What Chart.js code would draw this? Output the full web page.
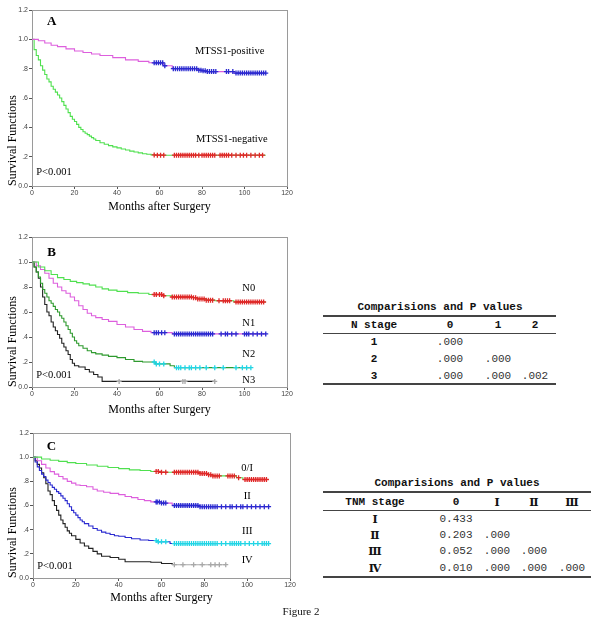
<!DOCTYPE html>
<html>
<head>
<meta charset="utf-8">
<script src="https://cdn.jsdelivr.net/npm/chart.js@4.4.0/dist/chart.umd.min.js"></script>
<style>
  body { margin:0; background:#fff; width:600px; height:622px; position:relative; overflow:hidden; }
  canvas { position:absolute; left:0; }
  .t { position:absolute; white-space:nowrap; transform:translate(-50%,-50%); color:#111; }
  .hd { font-family:"Liberation Mono", monospace; font-weight:bold; font-size:11px; }
  .num { font-family:"Liberation Mono", monospace; font-size:11px; color:#333; }
  .rom { font-family:"DejaVu Serif", "Noto Sans CJK SC", serif; font-weight:bold; font-size:11px; }
  .ln { position:absolute; background:#444; }
</style>
</head>
<body>
<canvas id="kmA" width="300" height="215" style="top:0px"></canvas>
<canvas id="kmB" width="300" height="205" style="top:215px"></canvas>
<canvas id="kmC" width="300" height="202" style="top:420px"></canvas>
<div id="tables"></div>
<div class="t" style="left:301px; top:611px; font-family:'Liberation Serif', serif; font-size:11px;">Figure 2</div>
<script>
window.onload = function () {

// ---- panel A : MTSS1 ----
const aPosTime = [0,3,6,9,12,16,20,24,28,32,38,44,50,55,62,66,78,80,82,95,110];
const aPosSurv = [1,0.99,0.975,0.96,0.95,0.935,0.92,0.91,0.9,0.89,0.875,0.86,0.85,0.84,0.82,0.80,0.79,0.785,0.78,0.77,0.77];
const aPosCens = [57.5,58.5,59.5,60.5,61.5,62.5,66.5,67.5,68.5,69.5,70.5,71.5,72.5,73.5,74.5,75.5,76.5,77.5,78.5,79.5,80.5,81.5,82.5,83.5,84.5,85.5,86.5,91.5,92.5,94.5,96,97,98,99,100,101,102,103,104,105,106,107,108,109,110];
const aNegTime = [0,1,2,3,4,5,6,7,8,9,10,11,12,13,14,15,16,17,18,19,20,21,22,23,24,25,26,27,28,29,30,32,34,36,38,40,42,44,46,48,50,52,54,56,58,110];
const aNegSurv = [1,0.93,0.89,0.86,0.82,0.79,0.76,0.73,0.71,0.68,0.66,0.64,0.62,0.6,0.575,0.55,0.525,0.5,0.475,0.455,0.44,0.42,0.4,0.385,0.37,0.36,0.35,0.34,0.33,0.32,0.31,0.295,0.285,0.275,0.267,0.26,0.252,0.245,0.238,0.232,0.226,0.22,0.216,0.212,0.21,0.21];
const aNegCens = [57.5,59,60.5,62,67,68,69,70,71,72,73,74,75,76,77,78.5,80,81,82,83,84,85,86,88.5,89.5,90.5,91.5,92.5,94,96,98,99.5,101,103,105,107,108.5];

// ---- panel B : N stage ----
const n0Time = [0,3,6,9,12,15,18,21,24,27,30,33,36,40,45,50,55,62,66,76,78,82,86,95,110];
const n0Surv = [1,0.96,0.93,0.9,0.875,0.86,0.845,0.835,0.825,0.815,0.8,0.785,0.775,0.765,0.755,0.75,0.74,0.73,0.72,0.715,0.705,0.695,0.69,0.68,0.68];
const n0Cens = [57.5,58.5,60,61,62,66,67,68,69,70,71,72,73,74,75,76,77,78,79,80,81,82,83,84,85,88,90,91,92,93,96,97,98,99,100,101,102,103,104,105,106,107,108,109];
const n1Time = [0,2,4,6,8,10,12,14,16,18,20,22,24,26,28,30,33,36,40,44,48,52,56,66,110];
const n1Surv = [1,0.97,0.94,0.91,0.87,0.83,0.8,0.77,0.75,0.72,0.69,0.65,0.62,0.59,0.57,0.555,0.54,0.525,0.5,0.48,0.46,0.445,0.435,0.425,0.425];
const n1Cens = [57.5,58.5,59.5,61,62.5,67,68,69,70,71,72,73,74,75,76,77,78,79,80,81,82,83,84,85,89,91,92,94,96,100,101,102,104,106,108,110];
const n2Time = [0,1,2,3,4,5,6,7,8,9,10,11,12,13,14,15,16,17,18,19,20,21,22,24,26,28,30,33,36,40,44,48,52,58,65,67,103];
const n2Surv = [1,0.96,0.92,0.88,0.83,0.78,0.75,0.72,0.69,0.67,0.645,0.62,0.6,0.57,0.55,0.52,0.49,0.46,0.43,0.4,0.37,0.35,0.33,0.31,0.29,0.275,0.265,0.255,0.245,0.235,0.22,0.205,0.2,0.185,0.17,0.155,0.155];
const n2Cens = [57.5,58.5,60,62,68,69,70,72,74,75,77,79,82,86,90,96,99,101,103];
const n3Time = [0,1,2,3,4,5,6,7,8,9,10,11,12,13,14,15,16,17,18,19,20,22,25,27,29,31,33,86];
const n3Surv = [1,0.96,0.92,0.87,0.8,0.72,0.66,0.6,0.57,0.52,0.48,0.45,0.42,0.39,0.35,0.32,0.29,0.26,0.22,0.19,0.17,0.16,0.14,0.12,0.1,0.08,0.045,0.045];
const n3Cens = [41,71,72,86];

// ---- panel C : TNM stage ----
const s1Time = [0,4,8,12,16,20,25,30,35,40,45,50,55,60,78,82,84,95,98,110];
const s1Surv = [1,0.985,0.975,0.965,0.955,0.948,0.935,0.925,0.915,0.905,0.895,0.89,0.882,0.875,0.865,0.855,0.845,0.83,0.815,0.815];
const s1Cens = [57.5,58.5,60,62,66,67,68,69,70,71,72,73,74,75,76,77,78,79,80,81,82,83,84,85,86,87,91,92,93,94,96,99,100,101,102,103,104,105,106,107,108,109];
const s2Time = [0,2,4,6,8,10,12,14,16,18,20,22,25,28,30,33,36,40,43,46,49,52,55,60,65,78,110];
const s2Surv = [1,0.97,0.94,0.91,0.88,0.86,0.84,0.82,0.8,0.785,0.77,0.765,0.755,0.735,0.72,0.71,0.7,0.69,0.675,0.665,0.65,0.64,0.63,0.62,0.6,0.59,0.59];
const s2Cens = [57.5,58,59,60,61,62,66,67,68,69,70,71,72,73,74,75,76,77,78,79,80,81,82,83,84,85,86,88,90,92,93,95,97,98,100,102,104,106,108,110];
const s3Time = [0,1,2,3,4,5,6,7,8,9,10,11,12,13,14,15,16,17,18,19,20,21,22,23,24,26,28,30,32,34,36,38,40,43,46,50,54,58,64,110];
const s3Surv = [1,0.96,0.92,0.89,0.86,0.84,0.81,0.79,0.77,0.75,0.735,0.715,0.7,0.68,0.66,0.64,0.615,0.59,0.56,0.54,0.52,0.5,0.48,0.465,0.45,0.43,0.41,0.395,0.38,0.37,0.36,0.35,0.345,0.335,0.325,0.315,0.31,0.3,0.285,0.285];
const s3Cens = [57.5,58.5,60,62,66,67,68,69,70,71,72,73,74,75,76,77,78,79,80,81,82,83,84,85,86,88,90,92,93,94,95,96,97,99,101,103,105,107,108,109,110];
const s4Time = [0,1,2,3,4,5,6,7,8,9,10,11,12,13,14,15,16,17,18,20,22,24,26,28,30,32,36,40,43,55,60,65,90];
const s4Surv = [1,0.97,0.94,0.91,0.87,0.83,0.78,0.72,0.69,0.64,0.6,0.56,0.52,0.48,0.45,0.42,0.39,0.37,0.35,0.32,0.29,0.265,0.245,0.22,0.2,0.18,0.17,0.155,0.135,0.13,0.12,0.11,0.11];
const s4Cens = [66,70,75,79,83,85,87,90];

const xTicks = [0,20,40,60,80,100,120];
const yTickText = ['0.0','.2','.4','.6','.8','1.0','1.2'];

// step function value at time t
function survAt(times, surv, t) {
	let v = surv[0];
	for (let i = 0; i < times.length; i++) {
		if (times[i] <= t) v = surv[i];
	}
	return v;
}

const kmFrame = {
	id: 'kmFrame',
	beforeDatasetsDraw(chart) {
		const a = chart.chartArea, c = chart.ctx;
		c.save();
		c.strokeStyle = '#9a9a9a';
		c.lineWidth = 1;
		c.strokeRect(a.left + 0.5, a.top + 0.5, a.right - a.left, a.bottom - a.top);
		c.restore();
	}
};

const kmText = {
	id: 'kmText',
	afterDraw(chart, args, opts) {
		const c = chart.ctx;
		c.save();
		c.fillStyle = '#000';
		c.textBaseline = 'middle';
		(opts.items || []).forEach(it => {
			c.font = it.font;
			c.textAlign = it.align || 'center';
			c.fillText(it.text, chart.scales.x.getPixelForValue(it.x), chart.scales.y.getPixelForValue(it.y));
		});
		c.restore();
	}
};

function kmChart(id, box, titlePad, curves, texts) {
	const cv = document.getElementById(id);
	const H = cv.height;
	let datasets = [];
	curves.forEach(cu => {
		let ds = {
			data: cu.time.map((t, i) => ({x: t, y: cu.surv[i]})),
			showLine: true, stepped: true, borderColor: cu.color, borderWidth: 1.1,
			pointRadius: 0, order: 2
		};
		if (cu.tail) {
			ds.segment = {borderColor: ctx => ctx.p0.parsed.x >= cu.tail ? cu.markColor : cu.color};
		}
		datasets.push(ds);
	});
	curves.forEach(cu => {
		datasets.push({
			data: cu.cens.map(t => ({x: t, y: survAt(cu.time, cu.surv, t)})),
			showLine: false, pointStyle: 'cross', pointRadius: 2.5,
			borderColor: cu.markColor, borderWidth: 1.3, order: 1
		});
	});
	new Chart(cv, {
		type: 'scatter',
		data: {datasets: datasets},
		options: {
			responsive: false, animation: false, devicePixelRatio: 1,
			layout: {padding: {left: 0, top: box.top, right: 300 - box.right, bottom: 0}},
			plugins: {legend: {display: false}, tooltip: {enabled: false}, kmText: {items: texts}},
			scales: {
				x: {
					type: 'linear', min: 0, max: 120,
					afterFit: s => { s.height = H - box.bottom; },
					afterBuildTicks: s => { s.ticks = xTicks.map(v => ({value: v})); },
					ticks: {font: {family: 'Arial, "Liberation Sans"', size: 7}, color: '#444', padding: 0, maxRotation: 0},
					grid: {display: true, drawOnChartArea: false, drawTicks: true, tickLength: 3, color: '#555'},
					border: {display: true, color: '#333'},
					title: {display: true, text: 'Months after Surgery', color: '#000',
						font: {family: '"Liberation Serif", serif', size: 12}, padding: {top: 0, bottom: titlePad}}
				},
				y: {
					min: 0, max: 1.2,
					afterFit: s => { s.width = box.left; },
					ticks: {stepSize: 0.2, callback: v => yTickText[Math.round(v / 0.2)],
						font: {family: 'Arial, "Liberation Sans"', size: 7}, color: '#444', padding: 1},
					grid: {display: true, drawOnChartArea: false, drawTicks: true, tickLength: 3, color: '#555'},
					border: {display: true, color: '#333'},
					title: {display: true, text: 'Survival Functions', align: 'start', color: '#000',
						font: {family: '"Liberation Serif", serif', size: 12}, padding: {top: 6, bottom: 0}}
				}
			}
		},
		plugins: [kmFrame, kmText]
	});
}

const green = '#4fe04f', pink = '#dd5fdd', dkgreen = '#2f9a2f', blue = '#2a2ad0';
const red = '#e02828', cyan = '#22d5e5', black = '#222', grey = '#a8a8a8';
const lbl = '10.5px "Liberation Serif", serif';
const big = 'bold 13px "Liberation Serif", serif';

kmChart('kmA', {left: 32, top: 10, right: 287, bottom: 186}, 1, [
	{time: aPosTime, surv: aPosSurv, cens: aPosCens, color: pink, markColor: blue},
	{time: aNegTime, surv: aNegSurv, cens: aNegCens, color: green, markColor: red}
], [
	{text: 'A', x: 9.3, y: 1.12, font: big},
	{text: 'MTSS1-positive', x: 93, y: 0.92, font: lbl},
	{text: 'MTSS1-negative', x: 94, y: 0.32, font: lbl},
	{text: 'P<0.001', x: 2, y: 0.095, font: lbl, align: 'left'}
]);

kmChart('kmB', {left: 32, top: 22, right: 287, bottom: 172}, 3, [
	{time: n0Time, surv: n0Surv, cens: n0Cens, color: green, markColor: red},
	{time: n1Time, surv: n1Surv, cens: n1Cens, color: pink, markColor: blue},
	{time: n2Time, surv: n2Surv, cens: n2Cens, color: dkgreen, markColor: cyan},
	{time: n3Time, surv: n3Surv, cens: n3Cens, color: black, markColor: grey, tail: 40}
], [
	{text: 'B', x: 9.2, y: 1.075, font: big},
	{text: 'N0', x: 102, y: 0.79, font: lbl},
	{text: 'N1', x: 102, y: 0.51, font: lbl},
	{text: 'N2', x: 102, y: 0.264, font: lbl},
	{text: 'N3', x: 102, y: 0.056, font: lbl},
	{text: 'P<0.001', x: 2, y: 0.096, font: lbl, align: 'left'}
]);

kmChart('kmC', {left: 33, top: 13, right: 290, bottom: 158}, 17, [
	{time: s1Time, surv: s1Surv, cens: s1Cens, color: green, markColor: red},
	{time: s2Time, surv: s2Surv, cens: s2Cens, color: pink, markColor: blue},
	{time: s3Time, surv: s3Surv, cens: s3Cens, color: blue, markColor: cyan},
	{time: s4Time, surv: s4Surv, cens: s4Cens, color: black, markColor: grey, tail: 64}
], [
	{text: 'C', x: 8.6, y: 1.087, font: big},
	{text: '0/I', x: 100, y: 0.908, font: lbl},
	{text: 'II', x: 100, y: 0.673, font: lbl},
	{text: 'III', x: 100, y: 0.383, font: lbl},
	{text: 'IV', x: 100, y: 0.143, font: lbl},
	{text: 'P<0.001', x: 2, y: 0.099, font: lbl, align: 'left'}
]);

// ---- comparison tables ----
const tabTitle = 'Comparisions and P values';
const nHead = ['N stage', '0', '1', '2'];
const nRows = ['1', '2', '3'];
const nP = [['.000'], ['.000', '.000'], ['.000', '.000', '.002']];
const tnmHead = ['TNM stage', '0', 'Ⅰ', 'Ⅱ', 'Ⅲ'];
const tnmRows = ['Ⅰ', 'Ⅱ', 'Ⅲ', 'Ⅳ'];
const tnmP = [['0.433'], ['0.203', '.000'], ['0.052', '.000', '.000'], ['0.010', '.000', '.000', '.000']];

const holder = document.getElementById('tables');
function put(text, x, y, cls) {
	let d = document.createElement('div');
	d.className = 't ' + cls;
	d.style.left = x + 'px';
	d.style.top = y + 'px';
	d.textContent = text;
	holder.appendChild(d);
}
function line(x0, x1, y, w) {
	let d = document.createElement('div');
	d.className = 'ln';
	d.style.left = x0 + 'px';
	d.style.width = (x1 - x0) + 'px';
	d.style.top = y + 'px';
	d.style.height = w + 'px';
	holder.appendChild(d);
}
function table(g, head, rows, pv, roman) {
	put(tabTitle, g.titleX, g.titleY, 'hd');
	line(g.x0, g.x1, g.top, 2);
	line(g.x0, g.x1, g.mid, 1);
	line(g.x0, g.x1, g.bottom, 2);
	head.forEach((h, i) => put(h, g.cols[i], g.headY, (roman && i > 1) ? 'rom' : 'hd'));
	rows.forEach((r, j) => {
		put(r, g.cols[0], g.rowY[j], roman ? 'rom' : 'hd');
		pv[j].forEach((p, k) => put(p, g.cols[k + 1], g.rowY[j], 'num'));
	});
}
table({titleX: 440, titleY: 307, x0: 323, x1: 556, top: 315, mid: 333, bottom: 383,
	headY: 325, rowY: [342, 359, 376], cols: [374, 450, 498, 535]}, nHead, nRows, nP, false);
table({titleX: 457, titleY: 483, x0: 323, x1: 591, top: 491, mid: 510, bottom: 576,
	headY: 502, rowY: [519, 535, 551, 568], cols: [375, 456, 497, 534, 572]}, tnmHead, tnmRows, tnmP, true);

}
</script>
</body>
</html>
